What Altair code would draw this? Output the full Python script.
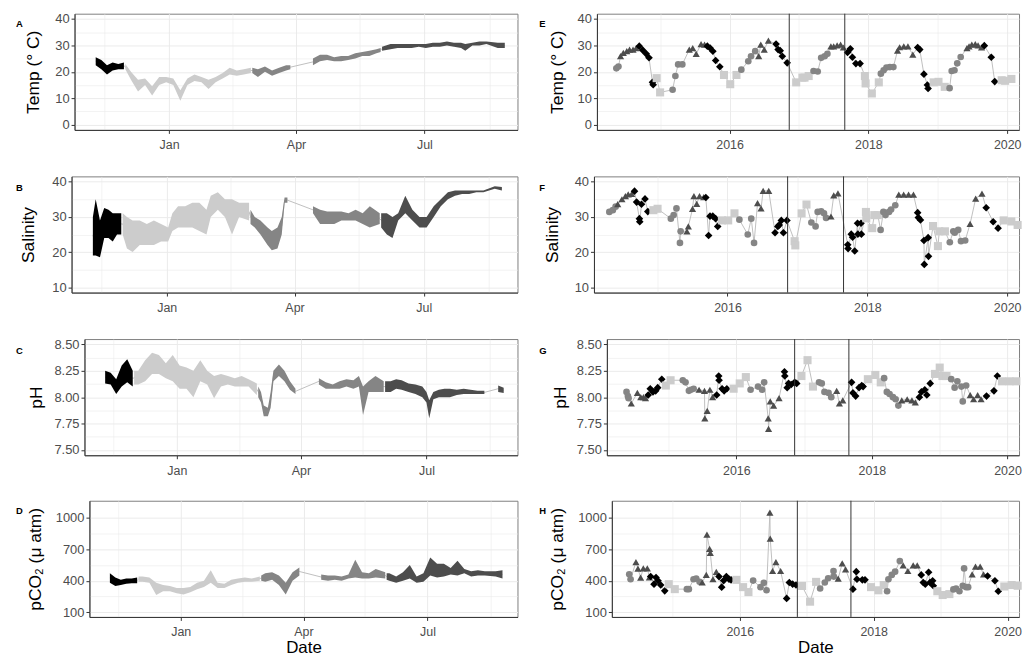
import altair as alt
import pandas as pd

FONT = "Liberation Sans"
SEASONS = ["Spring", "Summer", "Fall", "Winter"]
SEASON_COLORS = ["#858585", "#4d4d4d", "#000000", "#cccccc"]
SEASON_SHAPES = ["circle", "triangle-up", "diamond", "square"]
SEASON_SIZES = [45, 66, 30, 45]
LINK = "#c0c0c0"
GRID = "#ebebeb"

RIGHT_DOMAIN = [2014.09, 2020.17]
VLINE_YEARS = [2016.86, 2017.66]

LEFT_TEMP = [
    ("2016-11-10", 22.5, 25.5), ("2016-11-14", 21, 24.5), ("2016-11-18", 19, 22.5), ("2016-11-22", 20.5, 23.5),
    ("2016-11-26", 21, 23), ("2016-11-30", 21, 23.5),
    ("2016-12-01", 21, 23), ("2016-12-05", 17, 20), ("2016-12-10", 12.5, 17), ("2016-12-15", 15, 17.5),
    ("2016-12-20", 11, 14.5), ("2016-12-25", 15, 18), ("2016-12-30", 16, 18), ("2017-01-04", 15, 17.5),
    ("2017-01-09", 9, 13), ("2017-01-14", 15, 17.5), ("2017-01-19", 16.5, 19), ("2017-01-24", 16, 18),
    ("2017-01-29", 13.5, 17), ("2017-02-03", 16, 18), ("2017-02-08", 17.5, 19.5), ("2017-02-13", 19, 21.5),
    ("2017-02-18", 18.5, 20.5), ("2017-02-23", 19, 21), ("2017-02-28", 19.5, 21.5),
    ("2017-03-01", 19.5, 21.5), ("2017-03-05", 18, 21), ("2017-03-10", 20, 22), ("2017-03-15", 18.5, 20.5),
    ("2017-03-20", 19.5, 21.5), ("2017-03-25", 20.5, 22.5), ("2017-03-28", 21, 22.5),
    ("2017-04-13", 22.5, 25), ("2017-04-18", 24, 26.5), ("2017-04-23", 24.5, 26.5), ("2017-04-28", 24, 25.5),
    ("2017-05-03", 24, 26), ("2017-05-08", 24.5, 26), ("2017-05-13", 25, 27), ("2017-05-18", 26, 27.5),
    ("2017-05-23", 26, 28), ("2017-05-28", 27, 28.5), ("2017-05-31", 27.5, 29),
    ("2017-06-01", 28, 29.5), ("2017-06-07", 28.5, 30.5), ("2017-06-12", 29, 30.5), ("2017-06-17", 29, 30.5),
    ("2017-06-22", 29, 30.5), ("2017-06-27", 29.5, 30.5), ("2017-07-02", 29, 30.5), ("2017-07-07", 29.5, 31),
    ("2017-07-12", 29.5, 31), ("2017-07-17", 30, 31.5), ("2017-07-22", 29.5, 31), ("2017-07-27", 29, 31),
    ("2017-07-30", 28, 30.5), ("2017-08-04", 30, 31), ("2017-08-09", 30, 31.5), ("2017-08-14", 30.5, 31.5),
    ("2017-08-22", 29, 31), ("2017-08-27", 29, 31),
]
LEFT_SAL = [
    ("2016-11-10", 19, 30), ("2016-11-12", 19, 35), ("2016-11-15", 18.5, 29), ("2016-11-18", 24, 32.5),
    ("2016-11-21", 24, 32), ("2016-11-24", 23, 31), ("2016-11-27", 25, 31), ("2016-11-30", 25, 31),
    ("2016-12-01", 25, 31), ("2016-12-04", 21, 30), ("2016-12-08", 20, 29), ("2016-12-13", 22, 29),
    ("2016-12-18", 22, 28), ("2016-12-23", 22, 29), ("2016-12-28", 23, 28), ("2017-01-02", 23, 27),
    ("2017-01-05", 26, 31), ("2017-01-09", 27, 33), ("2017-01-14", 27, 33), ("2017-01-19", 27, 34),
    ("2017-01-24", 26, 34), ("2017-01-29", 25, 32), ("2017-02-01", 30, 36), ("2017-02-06", 32, 37),
    ("2017-02-11", 30, 35), ("2017-02-16", 25, 35), ("2017-02-21", 30, 34), ("2017-02-28", 29, 34),
    ("2017-03-01", 28, 32), ("2017-03-04", 27, 30), ("2017-03-08", 25, 29), ("2017-03-13", 22, 27),
    ("2017-03-16", 20.5, 26), ("2017-03-20", 21, 27), ("2017-03-23", 25, 30), ("2017-03-25", 34, 35.5),
    ("2017-03-27", 34, 35.5),
    ("2017-04-14", 31, 33), ("2017-04-19", 28, 32), ("2017-04-24", 28, 31.5), ("2017-04-29", 28, 31.5),
    ("2017-05-04", 29, 31.5), ("2017-05-09", 29, 31), ("2017-05-14", 29, 32), ("2017-05-19", 28, 31),
    ("2017-05-24", 27, 33), ("2017-05-31", 28, 31),
    ("2017-06-01", 27, 31), ("2017-06-05", 25, 31), ("2017-06-09", 24, 30), ("2017-06-13", 29, 31),
    ("2017-06-18", 31, 36), ("2017-06-23", 29, 32), ("2017-06-28", 27, 30), ("2017-07-03", 27, 30),
    ("2017-07-08", 30, 33), ("2017-07-13", 33, 35), ("2017-07-18", 35, 37), ("2017-07-23", 36, 37.5),
    ("2017-07-28", 36.5, 37.5), ("2017-08-02", 36.5, 37.5), ("2017-08-07", 37, 37.5), ("2017-08-12", 37, 37.5),
    ("2017-08-20", 38, 38.7), ("2017-08-25", 37.5, 38.5),
]
LEFT_PH = [
    ("2016-11-10", 8.13, 8.25), ("2016-11-14", 8.12, 8.23), ("2016-11-18", 8.03, 8.17), ("2016-11-22", 8.10, 8.30),
    ("2016-11-26", 8.14, 8.36), ("2016-11-30", 8.10, 8.25),
    ("2016-12-01", 8.12, 8.25), ("2016-12-04", 8.12, 8.25), ("2016-12-09", 8.15, 8.35), ("2016-12-14", 8.22, 8.42),
    ("2016-12-19", 8.22, 8.40), ("2016-12-24", 8.18, 8.32), ("2016-12-29", 8.15, 8.40), ("2017-01-03", 8.08, 8.30),
    ("2017-01-08", 8.08, 8.28), ("2017-01-13", 8.00, 8.25), ("2017-01-18", 8.15, 8.35), ("2017-01-23", 8.12, 8.25),
    ("2017-01-28", 7.99, 8.20), ("2017-02-02", 8.10, 8.22), ("2017-02-07", 8.12, 8.20), ("2017-02-12", 8.10, 8.18),
    ("2017-02-17", 8.10, 8.20), ("2017-02-22", 8.10, 8.17), ("2017-02-28", 8.02, 8.13),
    ("2017-03-01", 8.00, 8.10), ("2017-03-03", 7.95, 8.05), ("2017-03-05", 7.82, 7.92), ("2017-03-08", 7.82, 7.90),
    ("2017-03-10", 7.90, 8.05), ("2017-03-12", 8.15, 8.25), ("2017-03-16", 8.20, 8.31), ("2017-03-20", 8.15, 8.25),
    ("2017-03-24", 8.07, 8.15), ("2017-03-28", 8.03, 8.08),
    ("2017-04-14", 8.12, 8.18), ("2017-04-19", 8.08, 8.14), ("2017-04-24", 8.08, 8.12), ("2017-04-29", 8.08, 8.15),
    ("2017-05-04", 8.10, 8.17), ("2017-05-09", 8.08, 8.16), ("2017-05-13", 8.10, 8.20), ("2017-05-16", 7.83, 8.10),
    ("2017-05-20", 8.05, 8.15), ("2017-05-25", 8.05, 8.20), ("2017-05-31", 8.05, 8.15),
    ("2017-06-01", 8.05, 8.15), ("2017-06-05", 8.05, 8.15), ("2017-06-09", 8.08, 8.17), ("2017-06-13", 8.07, 8.16),
    ("2017-06-18", 8.05, 8.13), ("2017-06-23", 8.03, 8.12), ("2017-06-28", 8.00, 8.10), ("2017-07-01", 7.95, 8.05),
    ("2017-07-03", 7.80, 7.97), ("2017-07-06", 7.98, 8.05), ("2017-07-10", 8.00, 8.07), ("2017-07-14", 8.00, 8.08),
    ("2017-07-18", 8.00, 8.08), ("2017-07-23", 8.02, 8.07), ("2017-07-28", 8.03, 8.08), ("2017-08-02", 8.03, 8.07),
    ("2017-08-07", 8.03, 8.06), ("2017-08-12", 8.03, 8.06),
    ("2017-08-22", 8.05, 8.11), ("2017-08-26", 8.04, 8.09),
]
LEFT_PCO2 = [
    ("2016-11-10", 380, 470), ("2016-11-14", 350, 430), ("2016-11-18", 360, 410), ("2016-11-22", 370, 420),
    ("2016-11-26", 375, 420), ("2016-11-30", 375, 430),
    ("2016-12-01", 390, 440), ("2016-12-04", 390, 440), ("2016-12-09", 380, 430), ("2016-12-14", 265, 380),
    ("2016-12-19", 300, 360), ("2016-12-24", 300, 350), ("2016-12-29", 280, 330), ("2017-01-03", 270, 330),
    ("2017-01-08", 290, 340), ("2017-01-13", 320, 380), ("2017-01-18", 340, 400), ("2017-01-23", 380, 500),
    ("2017-01-28", 330, 380), ("2017-02-02", 330, 370), ("2017-02-07", 360, 410), ("2017-02-12", 380, 420),
    ("2017-02-17", 390, 430), ("2017-02-22", 390, 420), ("2017-02-28", 400, 440),
    ("2017-03-01", 400, 450), ("2017-03-04", 390, 470), ("2017-03-09", 410, 480), ("2017-03-14", 360, 450),
    ("2017-03-19", 270, 380), ("2017-03-24", 400, 480), ("2017-03-29", 450, 525),
    ("2017-04-14", 410, 460), ("2017-04-19", 400, 450), ("2017-04-24", 410, 450), ("2017-04-29", 400, 440),
    ("2017-05-04", 420, 460), ("2017-05-09", 430, 600), ("2017-05-14", 420, 480), ("2017-05-19", 420, 470),
    ("2017-05-24", 430, 510), ("2017-05-31", 420, 480),
    ("2017-06-01", 410, 470), ("2017-06-03", 400, 470), ("2017-06-08", 380, 440), ("2017-06-13", 400, 480),
    ("2017-06-18", 420, 550), ("2017-06-23", 380, 440), ("2017-06-28", 390, 470), ("2017-07-03", 450, 620),
    ("2017-07-08", 430, 560), ("2017-07-13", 440, 560), ("2017-07-18", 460, 520), ("2017-07-23", 450, 590),
    ("2017-07-28", 470, 510), ("2017-08-02", 440, 490), ("2017-08-07", 450, 500), ("2017-08-12", 450, 490),
    ("2017-08-20", 440, 490), ("2017-08-25", 420, 500),
]

RIGHT_TEMP = [
    (2014.37, 21.3), (2014.40, 22.0), (2014.43, 25.9), (2014.47, 27.2), (2014.52, 27.8), (2014.56, 28.4),
    (2014.61, 28.4), (2014.655, 29.0), (2014.70, 29.7), (2014.75, 28.2), (2014.80, 26.8), (2014.84, 25.3),
    (2014.89, 16.0), (2014.90, 15.1), (2014.95, 17.6), (2015.00, 12.2), (2015.18, 13.2), (2015.22, 18.4),
    (2015.26, 22.8), (2015.32, 22.8), (2015.42, 28.4), (2015.47, 29.0), (2015.52, 26.8), (2015.59, 30.5),
    (2015.64, 30.3), (2015.68, 29.7), (2015.72, 29.0), (2015.76, 27.8), (2015.80, 24.3), (2015.86, 21.9),
    (2015.92, 18.8), (2016.01, 15.3), (2016.10, 18.8), (2016.17, 20.8), (2016.27, 24.0), (2016.31, 25.9),
    (2016.37, 27.8), (2016.42, 25.9), (2016.45, 30.3), (2016.50, 28.4), (2016.56, 31.8), (2016.67, 30.5),
    (2016.70, 28.4), (2016.73, 28.0), (2016.76, 25.9), (2016.83, 23.4), (2016.96, 16.0), (2017.05, 17.8),
    (2017.08, 17.8), (2017.14, 18.4), (2017.21, 20.3), (2017.27, 20.1), (2017.32, 25.3), (2017.37, 25.9),
    (2017.41, 26.8), (2017.46, 29.6), (2017.50, 29.6), (2017.55, 30.0), (2017.60, 30.3), (2017.64, 29.2),
    (2017.70, 27.3), (2017.74, 28.7), (2017.77, 25.5), (2017.82, 23.1), (2017.88, 23.1), (2017.95, 18.4),
    (2017.96, 15.6), (2018.05, 11.8), (2018.15, 16.0), (2018.18, 19.3), (2018.22, 20.6), (2018.26, 21.6),
    (2018.31, 21.8), (2018.36, 21.8), (2018.42, 28.0), (2018.45, 29.3), (2018.51, 29.6), (2018.57, 29.6),
    (2018.64, 26.5), (2018.71, 29.2), (2018.74, 28.4), (2018.80, 19.1), (2018.85, 15.0), (2018.86, 13.7),
    (2018.94, 16.0), (2019.01, 16.2), (2019.10, 14.3), (2019.17, 13.8), (2019.20, 20.3), (2019.24, 20.6),
    (2019.28, 23.2), (2019.33, 25.6), (2019.42, 29.0), (2019.45, 29.6), (2019.49, 30.3), (2019.54, 30.5),
    (2019.58, 30.0), (2019.63, 29.2), (2019.67, 29.9), (2019.77, 25.5), (2019.82, 16.3), (2019.92, 16.8),
    (2019.97, 16.6), (2020.06, 17.3),
]
RIGHT_SAL = [
    (2014.31, 31.4), (2014.36, 31.9), (2014.40, 32.9), (2014.43, 33.6), (2014.49, 35.0), (2014.54, 35.9),
    (2014.58, 36.4), (2014.63, 36.5), (2014.67, 37.3), (2014.70, 34.2), (2014.74, 29.5), (2014.745, 28.6),
    (2014.77, 33.6), (2014.82, 35.1), (2014.86, 31.5), (2014.94, 31.9), (2015.00, 32.3), (2015.19, 29.5),
    (2015.23, 30.5), (2015.27, 32.4), (2015.32, 22.6), (2015.33, 25.9), (2015.42, 25.9), (2015.44, 27.3),
    (2015.50, 32.3), (2015.52, 35.9), (2015.56, 33.7), (2015.60, 35.9), (2015.66, 35.6), (2015.69, 35.5),
    (2015.73, 24.7), (2015.75, 30.2), (2015.79, 30.2), (2015.83, 29.5), (2015.86, 27.3), (2015.92, 29.0),
    (2016.01, 29.0), (2016.10, 31.0), (2016.17, 29.2), (2016.29, 25.0), (2016.34, 29.5), (2016.38, 22.6),
    (2016.43, 33.9), (2016.48, 32.4), (2016.51, 37.4), (2016.59, 37.4), (2016.68, 25.5), (2016.72, 27.3),
    (2016.74, 27.7), (2016.77, 29.0), (2016.80, 25.5), (2016.85, 29.0), (2016.96, 23.1), (2016.97, 21.9),
    (2017.06, 31.0), (2017.13, 33.5), (2017.20, 28.4), (2017.26, 27.3), (2017.29, 31.4), (2017.34, 31.6),
    (2017.38, 31.0), (2017.41, 29.7), (2017.48, 30.1), (2017.52, 36.1), (2017.58, 36.7), (2017.72, 22.1),
    (2017.725, 21.0), (2017.77, 25.1), (2017.79, 24.2), (2017.82, 20.3), (2017.86, 28.2), (2017.865, 25.1),
    (2017.91, 28.2), (2017.915, 25.1), (2017.98, 31.4), (2017.985, 29.6), (2018.07, 26.8), (2018.10, 30.5),
    (2018.15, 30.5), (2018.19, 26.3), (2018.23, 31.4), (2018.26, 30.5), (2018.31, 31.4), (2018.34, 32.1),
    (2018.40, 33.3), (2018.45, 36.3), (2018.52, 36.3), (2018.59, 36.3), (2018.66, 36.3), (2018.72, 31.2),
    (2018.73, 29.8), (2018.76, 29.1), (2018.81, 23.3), (2018.815, 16.5), (2018.87, 24.1), (2018.875, 18.8),
    (2018.94, 27.4), (2019.01, 21.7), (2019.03, 25.9), (2019.11, 25.9), (2019.18, 22.8), (2019.23, 25.9),
    (2019.25, 25.5), (2019.30, 26.3), (2019.34, 23.1), (2019.40, 23.3), (2019.47, 28.0), (2019.55, 35.2),
    (2019.64, 36.6), (2019.70, 32.6), (2019.80, 28.6), (2019.87, 26.8), (2019.95, 29.0), (2020.06, 28.7),
    (2020.15, 27.7),
]
RIGHT_PH = [
    (2014.38, 8.05), (2014.40, 8.01), (2014.41, 7.99), (2014.45, 7.94), (2014.54, 8.04), (2014.59, 8.00),
    (2014.63, 8.00), (2014.66, 7.99), (2014.70, 8.02), (2014.73, 8.08), (2014.77, 8.05), (2014.81, 8.06),
    (2014.84, 8.09), (2014.90, 8.17), (2014.96, 8.11), (2015.03, 8.16), (2015.21, 8.16), (2015.25, 8.14),
    (2015.30, 8.06), (2015.33, 8.07), (2015.37, 8.08), (2015.45, 8.07), (2015.53, 8.06), (2015.535, 7.80),
    (2015.57, 7.87), (2015.61, 8.07), (2015.65, 8.00), (2015.71, 8.02), (2015.74, 8.20), (2015.745, 8.16),
    (2015.79, 8.08), (2015.82, 8.06), (2015.86, 8.08), (2015.96, 8.08), (2016.05, 8.13), (2016.14, 8.19),
    (2016.21, 8.07), (2016.32, 8.10), (2016.38, 8.07), (2016.41, 8.14), (2016.47, 7.80), (2016.475, 7.70),
    (2016.50, 7.96), (2016.55, 7.92), (2016.63, 7.99), (2016.71, 8.24), (2016.715, 8.20), (2016.75, 8.09),
    (2016.77, 8.13), (2016.81, 8.12), (2016.86, 8.14), (2016.89, 8.13), (2016.96, 8.20), (2017.05, 8.35),
    (2017.13, 8.10), (2017.22, 8.14), (2017.26, 8.13), (2017.30, 8.05), (2017.36, 8.04), (2017.40, 8.00),
    (2017.48, 8.06), (2017.52, 7.94), (2017.57, 7.97), (2017.70, 8.14), (2017.72, 8.04), (2017.76, 8.01),
    (2017.81, 8.09), (2017.85, 8.11), (2017.87, 8.10), (2017.94, 8.17), (2018.05, 8.21), (2018.13, 8.14),
    (2018.18, 8.18), (2018.22, 8.05), (2018.26, 8.03), (2018.31, 8.00), (2018.35, 7.98), (2018.39, 7.92),
    (2018.44, 7.97), (2018.52, 7.98), (2018.59, 7.97), (2018.64, 7.95), (2018.70, 8.00), (2018.73, 8.05),
    (2018.78, 8.07), (2018.81, 8.02), (2018.86, 8.13), (2018.93, 8.22), (2019.00, 8.28), (2019.04, 8.20),
    (2019.10, 8.20), (2019.17, 8.17), (2019.22, 8.09), (2019.26, 8.15), (2019.32, 8.10), (2019.34, 7.96),
    (2019.39, 8.11), (2019.45, 8.02), (2019.50, 7.98), (2019.56, 8.02), (2019.61, 7.98), (2019.69, 8.01),
    (2019.80, 8.06), (2019.85, 8.20), (2019.92, 8.15), (2020.03, 8.15), (2020.13, 8.15),
]
RIGHT_PCO2 = [
    (2014.35, 461), (2014.37, 414), (2014.45, 577), (2014.48, 514), (2014.52, 429), (2014.56, 517),
    (2014.62, 517), (2014.65, 432), (2014.67, 440), (2014.72, 367), (2014.75, 430), (2014.78, 399),
    (2014.82, 359), (2014.88, 304), (2014.94, 367), (2015.03, 320), (2015.21, 320), (2015.24, 320),
    (2015.31, 414), (2015.35, 420), (2015.40, 389), (2015.44, 383), (2015.50, 455), (2015.51, 837),
    (2015.55, 702), (2015.56, 664), (2015.60, 414), (2015.65, 483), (2015.69, 439), (2015.73, 339),
    (2015.76, 401), (2015.80, 439), (2015.84, 414), (2015.87, 408), (2015.95, 408), (2016.05, 339),
    (2016.13, 292), (2016.20, 401), (2016.31, 339), (2016.36, 380), (2016.40, 309), (2016.45, 1047),
    (2016.455, 800), (2016.49, 492), (2016.54, 577), (2016.61, 492), (2016.70, 232), (2016.74, 383),
    (2016.79, 367), (2016.84, 359), (2016.93, 350), (2017.05, 201), (2017.14, 389), (2017.20, 326),
    (2017.27, 383), (2017.32, 423), (2017.40, 492), (2017.405, 439), (2017.47, 420), (2017.53, 565),
    (2017.58, 508), (2017.69, 320), (2017.74, 486), (2017.75, 414), (2017.83, 408), (2017.87, 408),
    (2017.96, 339), (2018.07, 309), (2018.15, 359), (2018.20, 300), (2018.22, 414), (2018.27, 455),
    (2018.32, 486), (2018.39, 586), (2018.44, 546), (2018.51, 492), (2018.59, 546), (2018.65, 546),
    (2018.71, 455), (2018.74, 383), (2018.77, 367), (2018.82, 480), (2018.84, 383), (2018.88, 399),
    (2018.89, 352), (2018.95, 300), (2019.03, 264), (2019.13, 273), (2019.19, 317), (2019.23, 326),
    (2019.28, 300), (2019.33, 352), (2019.35, 517), (2019.38, 339), (2019.41, 339), (2019.47, 461),
    (2019.52, 533), (2019.59, 533), (2019.64, 461), (2019.70, 445), (2019.81, 399), (2019.86, 300),
    (2019.95, 345), (2020.06, 359), (2020.15, 352),
]

VARS = {
    "temp": dict(domain=[-2, 42], values=[0, 5, 10, 15, 20, 25, 30, 35, 40],
                 test="datum.value % 10 == 0", fmt="d", title="Temp (\u00b0 C)"),
    "sal": dict(domain=[8.5, 41.5], values=[10, 15, 20, 25, 30, 35, 40],
                test="datum.value % 10 == 0", fmt="d", title="Salinity"),
    "ph": dict(domain=[7.45, 8.55], values=[7.5, 7.625, 7.75, 7.875, 8.0, 8.125, 8.25, 8.375, 8.5],
               test="(datum.value * 4) % 1 == 0", fmt=".2f", title="pH"),
    "pco2": dict(domain=[56, 1159], values=[100, 250, 400, 550, 700, 850, 1000],
                 test="(datum.value - 100) % 300 == 0", fmt="d", title="pCO\u2082  (\u03bc atm)"),
}


def cond(test, a, b):
    return {"condition": {"test": test, "value": a}, "value": b}


def season_of_month(m):
    if m in (3, 4, 5):
        return "Spring"
    if m in (6, 7, 8):
        return "Summer"
    if m in (9, 10, 11):
        return "Fall"
    return "Winter"


def month_of_decimal_year(v):
    y = int(v)
    start = pd.Timestamp(year=y, month=1, day=1)
    n = (pd.Timestamp(year=y + 1, month=1, day=1) - start).days
    return (start + pd.Timedelta(days=(v - y) * n)).month


def yaxis(var, tpad):
    v = VARS[var]
    return alt.Axis(values=v["values"], format=v["fmt"], labelExpr=f"({v['test']}) ? datum.label : ''",
                    gridWidth=cond(v["test"], 1, 0.6), tickOpacity=cond(v["test"], 1, 0),
                    title=v["title"], titlePadding=tpad)


def yscale(var):
    return alt.Scale(domain=VARS[var]["domain"], nice=False, zero=False)


LX_TEST = "month(datum.value) % 3 == 0"
LEFT_TICKS = [(2016, 11, 16), (2017, 1, 1), (2017, 2, 15), (2017, 4, 1), (2017, 5, 16), (2017, 7, 1), (2017, 8, 16)]


def left_xaxis(bottom):
    kw = dict(values=[alt.DateTime(year=y, month=m, date=d) for y, m, d in LEFT_TICKS],
              labelExpr=f"({LX_TEST}) ? timeFormat(datum.value, '%b') : ''",
              gridWidth=cond(LX_TEST, 1, 0.6), tickOpacity=cond(LX_TEST, 1, 0), labelFlush=False)
    kw["title"] = "Date" if bottom else None
    return alt.Axis(**kw)


RX_TEST = "datum.value % 2 == 0"


def right_xaxis(bottom):
    kw = dict(values=[2015, 2016, 2017, 2018, 2019, 2020], format="d",
              labelExpr=f"({RX_TEST}) ? datum.label : ''",
              gridWidth=cond(RX_TEST, 1, 0.6), tickOpacity=cond(RX_TEST, 1, 0), labelFlush=False)
    kw["title"] = "Date" if bottom else None
    return alt.Axis(**kw)


def letter_layer(letter, lx, ly):
    return alt.Chart(pd.DataFrame({"t": [letter]})).mark_text(
        font=FONT, fontSize=9.5, fontWeight="bold", align="left", baseline="alphabetic", color="#000000"
    ).encode(x=alt.value(lx), y=alt.value(ly), text="t:N")


color_enc = alt.Color("season:N", scale=alt.Scale(domain=SEASONS, range=SEASON_COLORS), legend=None)
PANEL_H = 117


def spacer():
    # tiny invisible cell so that every row is aligned on the same left edge
    return alt.Chart(pd.DataFrame({"v": [0]})).mark_point(opacity=0, size=1).encode(
        x=alt.value(0.5), y=alt.value(50)).properties(width=1, height=PANEL_H)


def left_panel(rows, var, letter, width, lx, ly, tpad, bottom=False):
    df = pd.DataFrame(rows, columns=["date", "lo", "hi"])
    df["date"] = pd.to_datetime(df["date"])
    df["mid"] = (df["lo"] + df["hi"]) / 2
    df["season"] = [season_of_month(d.month) for d in df["date"]]
    brk = (df["season"] != df["season"].shift()) | (df["date"].diff().dt.days > 8)
    df["seg"] = brk.cumsum()
    x = alt.X("date:T", scale=alt.Scale(domain=[alt.DateTime(year=2016, month=10, date=26),
                                                alt.DateTime(year=2017, month=9, date=5)]),
              axis=left_xaxis(bottom))
    base = alt.Chart(df)
    link = base.mark_line(color=LINK, strokeWidth=1).encode(
        x=x, y=alt.Y("mid:Q", scale=yscale(var), axis=yaxis(var, tpad)))
    band = base.mark_area(opacity=1).encode(
        x=x, y=alt.Y("lo:Q", scale=yscale(var), axis=yaxis(var, tpad), stack=None), y2="hi:Q",
        color=color_enc, detail="seg:N")
    return alt.layer(link, band, letter_layer(letter, lx, ly)).properties(width=width, height=PANEL_H)


def right_panel(rows, var, letter, width, lx, ly, tpad, bottom=False):
    df = pd.DataFrame(rows, columns=["year", "value"])
    df["season"] = [season_of_month(month_of_decimal_year(v)) for v in df["year"]]
    x = alt.X("year:Q", scale=alt.Scale(domain=RIGHT_DOMAIN, nice=False, zero=False), axis=right_xaxis(bottom))
    y = alt.Y("value:Q", scale=yscale(var), axis=yaxis(var, tpad))
    base = alt.Chart(df)
    link = base.mark_line(color=LINK, strokeWidth=1).encode(x=x, y=y)
    pts = base.mark_point(filled=True, opacity=1, strokeWidth=0).encode(
        x=x, y=y, color=color_enc,
        shape=alt.Shape("season:N", scale=alt.Scale(domain=SEASONS, range=SEASON_SHAPES), legend=None),
        size=alt.Size("season:N", scale=alt.Scale(domain=SEASONS, range=SEASON_SIZES), legend=None))
    vl = alt.Chart(pd.DataFrame({"year": VLINE_YEARS})).mark_rule(color="#333333", strokeWidth=1).encode(
        x=alt.X("year:Q", scale=alt.Scale(domain=RIGHT_DOMAIN, nice=False, zero=False), axis=right_xaxis(bottom)))
    return alt.layer(link, pts, vl, letter_layer(letter, lx, ly)).properties(width=width, height=PANEL_H)


rows = [
    alt.hconcat(spacer(),
                left_panel(LEFT_TEMP, "temp", "A", 446, -59, 13, 12),
                right_panel(RIGHT_TEMP, "temp", "E", 425, -58, 13, 11), spacing=20),
    alt.hconcat(spacer(),
                left_panel(LEFT_SAL, "sal", "B", 449, -56, 14.5, 14),
                right_panel(RIGHT_SAL, "sal", "F", 428, -55, 14.5, 13), spacing=20),
    alt.hconcat(spacer(),
                left_panel(LEFT_PH, "ph", "C", 436, -69, 15, 8),
                right_panel(RIGHT_PH, "ph", "G", 415, -68, 15, 7), spacing=20),
    alt.hconcat(spacer(),
                left_panel(LEFT_PCO2, "pco2", "D", 431, -74, 13, 11, bottom=True),
                right_panel(RIGHT_PCO2, "pco2", "H", 410, -73, 13, 11.5, bottom=True), spacing=20),
]

chart = alt.vconcat(*rows, spacing=22.8).properties(
    padding={"left": -16, "top": 1.5, "right": 0, "bottom": 0}
).configure_view(
    stroke="#7f7f7f", strokeWidth=1
).configure_axis(
    labelFont=FONT, labelFontSize=13, labelColor="#4d4d4d", tickColor="#333333", tickSize=3.5,
    domainColor="#333333", domainWidth=1, gridColor=GRID,
    titleFont=FONT, titleFontSize=17.5, titleFontWeight="normal", titleColor="#000000"
).configure_axisX(
    labelPadding=5.5, labelFontSize=12.5, titlePadding=1, titleFontSize=17
).configure_axisY(
    labelPadding=2
)

chart.save("out.html", embed_options={"renderer": "svg", "actions": False})
